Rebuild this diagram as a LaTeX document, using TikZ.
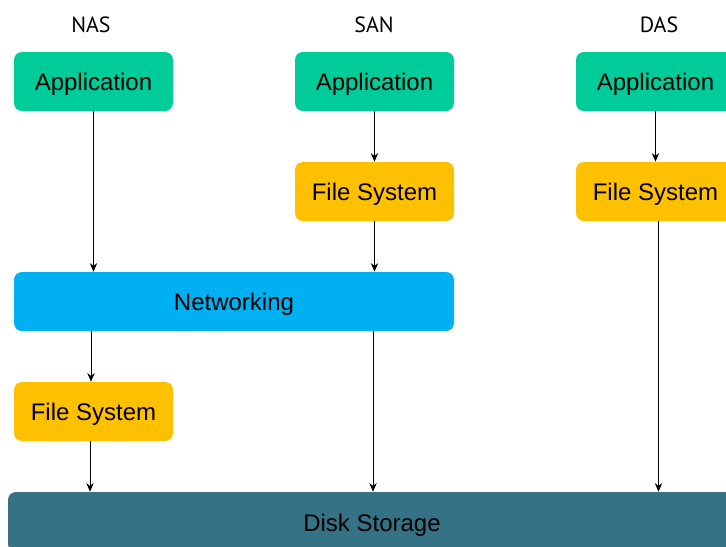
\documentclass[tikz,border=0pt]{standalone}
\usepackage{fontspec}
\setmainfont{Liberation Sans}
\newfontfamily\headfont{PT Sans}
\usetikzlibrary{arrows.meta}
\definecolor{appgreen}{RGB}{0,204,153}
\definecolor{fsyellow}{RGB}{255,192,0}
\definecolor{netblue}{RGB}{0,176,240}
\definecolor{diskteal}{RGB}{54,114,133}
\begin{document}
\begin{tikzpicture}[x=0.75pt,y=-0.75pt,
  box/.style={rounded corners=6pt, inner sep=0pt, text height=13.8pt, text depth=0pt, font=\fontsize{18}{20}\selectfont},
  head/.style={font=\headfont\fontsize{16.5}{18}\selectfont, inner sep=0pt},
  arr/.style={draw=black, line width=0.6pt, -{Stealth[length=6.5pt,width=5.5pt]}}]
\useasboundingbox (0,0) rectangle (726,547);
\clip (0,0) rectangle (726,547);
% headers
\node[head] (hnas) at (91,25) {NAS};
\node[head] (hsan) at (374,25) {SAN};
\node[head] (hdas) at (659,25) {DAS};
% boxes
\path[rounded corners=6pt, fill=appgreen] (14,52) rectangle (173,111);
\node[box] (nasapp) at (93.5,81.5) [minimum width=119.25pt, minimum height=44.25pt] {Application};
\path[rounded corners=6pt, fill=appgreen] (295,52) rectangle (454,111);
\node[box] (sanapp) at (374.5,81.5) [minimum width=119.25pt, minimum height=44.25pt] {Application};
\path[rounded corners=6pt, fill=appgreen] (576,52) rectangle (740,111);
\node[box] (dasapp) at (655.5,81.5) [minimum width=119.25pt, minimum height=44.25pt] {Application};
\path[rounded corners=6pt, fill=fsyellow] (295,162) rectangle (454,221);
\node[box] (sanfs) at (374.5,191.5) [minimum width=119.25pt, minimum height=44.25pt] {File System};
\path[rounded corners=6pt, fill=fsyellow] (576,162) rectangle (740,221);
\node[box] (dasfs) at (655.5,191.5) [minimum width=119.25pt, minimum height=44.25pt] {File System};
\path[rounded corners=6pt, fill=netblue] (14,272) rectangle (454,331);
\node[box] (net) at (234,301.5) [minimum width=330pt, minimum height=44.25pt] {Networking};
\path[rounded corners=6pt, fill=fsyellow] (14,382) rectangle (173,441);
\node[box] (nasfs) at (93.5,411.5) [minimum width=119.25pt, minimum height=44.25pt] {File System};
\path[rounded corners=6pt, fill=diskteal] (8,492) rectangle (740,552);
\node[box] (disk) at (372,522) [minimum width=549pt, minimum height=45pt] {Disk Storage};
% connectors
\draw[arr] (nasapp.south) -- (nasapp.south |- net.north);
\draw[arr] (sanapp.south) -- (sanfs.north);
\draw[arr] (sanfs.south) -- (sanfs.south |- net.north);
\draw[arr] (dasapp.south) -- (dasfs.north);
\coordinate (dasdown) at ([xshift=2.25pt]dasfs.south);
\draw[arr] (dasdown) -- (dasdown |- disk.north);
\coordinate (netnas) at (91,331);
\draw[arr] (netnas) -- (netnas |- nasfs.north);
\coordinate (netsan) at (373,331);
\draw[arr] (netsan) -- (netsan |- disk.north);
\coordinate (nasfsdown) at (90,441);
\draw[arr] (nasfsdown) -- (nasfsdown |- disk.north);
\end{tikzpicture}
\end{document}
